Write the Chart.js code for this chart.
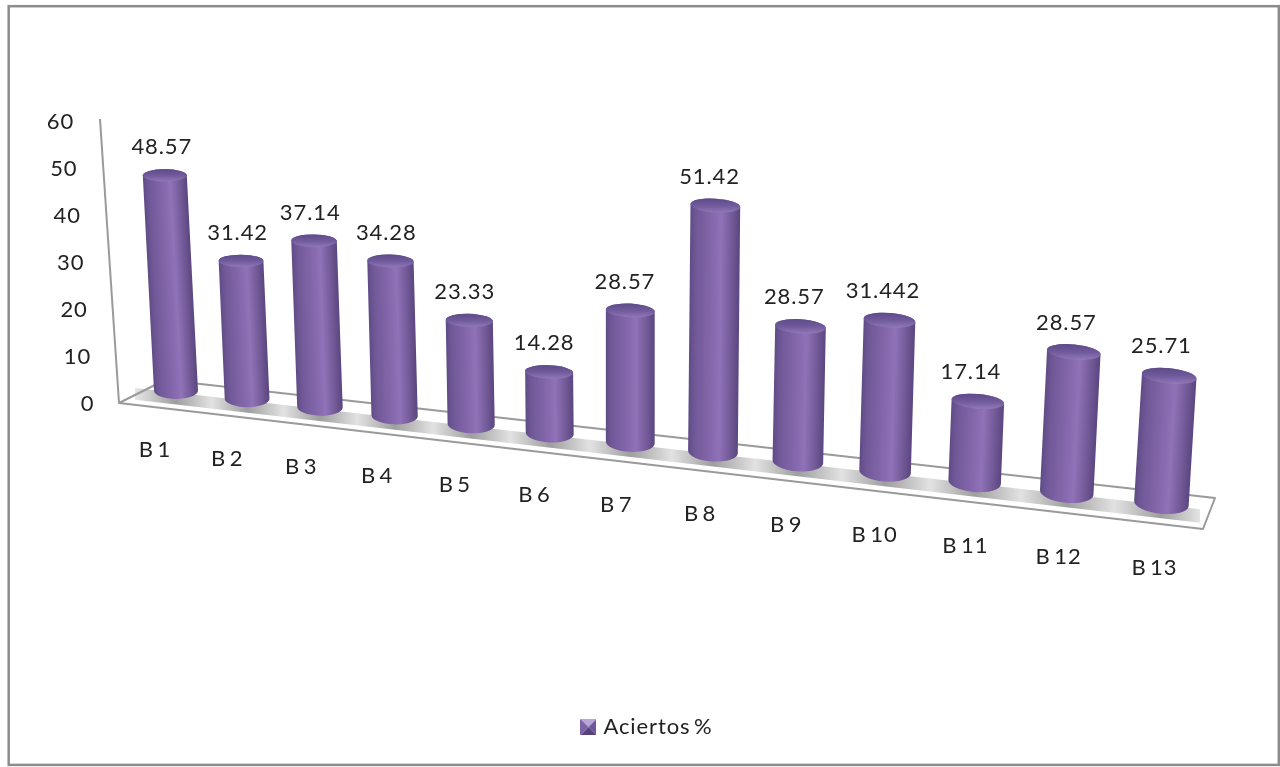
<!DOCTYPE html>
<html lang="es">
<head>
<meta charset="utf-8">
<title>Aciertos %</title>
<script src="https://cdn.jsdelivr.net/npm/chart.js@4"></script>
<style>
  html, body { margin: 0; padding: 0; background: #ffffff; }
  canvas { display: block; }
</style>
</head>
<body>
<canvas id="chart" width="1280" height="767"></canvas>
<script>
// Chart values
const categories = ['B 1', 'B 2', 'B 3', 'B 4', 'B 5', 'B 6', 'B 7', 'B 8', 'B 9', 'B 10', 'B 11', 'B 12', 'B 13'];
const aciertos = [48.57, 31.42, 37.14, 34.28, 23.33, 14.28, 28.57, 51.42, 28.57, 31.442, 17.14, 28.57, 25.71];
const seriesName = 'Aciertos %';
const axisMax = 60;
const axisStep = 10;

const FONT = { family: 'Lato', size: 22 };
const TEXT = '#222222';
const LINE = '#9a9a9a';

// Perspective of the floor: turns a category position into a point on the slanted plane.
const persp = u => 1 - 0.01206 * u;
const floorX = u => (68.11 * u + 176) / persp(u);
const floorFrontEdgeY = X => 399 + 0.1166 * (X - 177);
const depthScale = u => Math.pow(persp(u), -0.8) * 4.43 / 4.7 + 0.038;
const widthScale = u => Math.pow(persp(u), -1.4);
const LEAN = 0.000115, LEAN_ORIGIN = 629;

// Corners of the floor plate
const FLOOR = { fl: [119, 403], bl: [165, 380], br: [1215, 498], fr: [1203, 529] };
const frontY = X => FLOOR.fl[1] + (FLOOR.fr[1] - FLOOR.fl[1]) / (FLOOR.fr[0] - FLOOR.fl[0]) * (X - FLOOR.fl[0]);
const backY = X => FLOOR.bl[1] + (FLOOR.br[1] - FLOOR.bl[1]) / (FLOOR.br[0] - FLOOR.bl[0]) * (X - FLOOR.bl[0]);

// Plot area of the running chart, refreshed before each draw
let plotArea = null;

// Projects a bar laid out by the scales onto the slanted floor
function cylinderGeometry(bar) {
  const u = (bar.x - plotArea.left) / plotArea.width * categories.length - 0.5;
  const w = bar.width * widthScale(u);
  const xb = floorX(u);
  const rb = w * 0.19, rt = w * 0.14;
  const yb = floorFrontEdgeY(xb) - rb;
  const h = (bar.base - bar.y) * depthScale(u) - 8.6 + 0.2 * u;
  const xt = xb + (xb - LEAN_ORIGIN) * h * LEAN;
  const yt = yb - h;
  const tilt = (u / 12) * 6 * Math.PI / 180;
  return { u, w, xb, yb, xt, yt, rb, rt, tilt };
}

// A bar drawn as a shaded upright cylinder
class CylinderElement extends Chart.BarElement {
  static id = 'cylinder';
  static defaults = Chart.BarElement.defaults;
  draw(ctx) {
    const g = cylinderGeometry(this.getProps(['x', 'y', 'base', 'width'], true));
    const half = g.w / 2;
    ctx.save();
    ctx.beginPath();
    ctx.ellipse(g.xb, g.yb, half, g.rb, g.tilt, 0, Math.PI);
    ctx.ellipse(g.xt, g.yt, half, g.rt, g.tilt, Math.PI, Math.PI * 2);
    ctx.closePath();
    const shear = (g.xt - g.xb) / (g.yt - g.yb);
    ctx.save();
    ctx.transform(1, 0, shear, 1, -shear * g.yb, 0);
    const side = ctx.createLinearGradient(g.xb - half, 0, g.xb + half, 0);
    side.addColorStop(0, '#5f4b86');
    side.addColorStop(0.12, '#705897');
    side.addColorStop(0.5, '#886ab0');
    side.addColorStop(0.62, '#9072b8');
    side.addColorStop(0.86, '#6f5794');
    side.addColorStop(1, '#5a4680');
    ctx.fillStyle = side;
    ctx.fill();
    ctx.restore();

    const cap = ctx.createLinearGradient(0, g.yt - g.rt, 0, g.yt + g.rt);
    cap.addColorStop(0, '#5f4b88');
    cap.addColorStop(0.5, '#6f5a9c');
    cap.addColorStop(0.8, '#846bab');
    cap.addColorStop(1, '#9078b8');
    ctx.beginPath();
    ctx.ellipse(g.xt, g.yt, half, g.rt, g.tilt, 0, Math.PI * 2);
    ctx.fillStyle = cap;
    ctx.fill();
    ctx.restore();
  }
}

class CylinderController extends Chart.BarController {
  static id = 'cylinder';
  static defaults = { ...Chart.BarController.defaults, dataElementType: 'cylinder' };
}

Chart.register(CylinderElement, CylinderController);

// Bevelled legend swatch
function legendSwatch() {
  const s = 16, c = document.createElement('canvas');
  c.width = c.height = s;
  const p = c.getContext('2d');
  const tri = (a, b, fill) => {
    p.beginPath(); p.moveTo(...a); p.lineTo(...b); p.lineTo(s / 2, s / 2); p.closePath();
    p.fillStyle = fill; p.fill();
  };
  tri([0, 0], [s, 0], '#b9a6d8');
  tri([s, 0], [s, s], '#6f5799');
  tri([s, s], [0, s], '#57437c');
  tri([0, s], [0, 0], '#7d64a8');
  return c;
}

// Wider-set letters and a narrow word gap for every label on the canvas
function setTextSpacing(ctx) {
  ctx.letterSpacing = '0.9px';
  ctx.wordSpacing = '-3px';
}

const perspectivePlugin = {
  id: 'perspective',
  beforeUpdate: c => setTextSpacing(c.ctx),
  beforeLayout: c => setTextSpacing(c.ctx),
  beforeDraw(c) {
    const { ctx, chartArea: area, scales: { x, y }, width, height } = c;
    plotArea = area;
    setTextSpacing(ctx);

    // Outer frame
    ctx.save();
    ctx.strokeStyle = '#8c8c8c';
    ctx.lineWidth = 2.5;
    ctx.strokeRect(8.7, 6.2, width - 8.7 - 1.2, height - 6.2 - 2.1);
    ctx.restore();

    // Tick labels follow the slanted axes
    y.getLabelItems(area).forEach((item, i) => {
      const v = y.ticks[i].value;
      item.options.translation = [94.5 - 0.34 * v, y.getPixelForValue(v)];
      item.options.textAlign = 'right';
    });
    x.getLabelItems(area).forEach((item, i) => {
      const lx = floorX(i) - 21 + 14 * i / 12;
      item.options.translation = [lx, 450 + 0.118 * (lx - 155)];
      item.options.textAlign = 'center';
      item.options.textBaseline = 'middle';
      item.textOffset = 0;
    });
  },
  beforeDatasetsDraw(c) {
    const { ctx, scales: { y } } = c;
    const { fl, bl, br, fr } = FLOOR;
    ctx.save();
    ctx.lineJoin = 'round';

    // Value axis, leaning with the perspective
    ctx.strokeStyle = LINE;
    ctx.lineWidth = 2;
    ctx.beginPath();
    ctx.moveTo(fl[0], y.getPixelForValue(0) - 1);
    ctx.lineTo(fl[0] - 19, y.getPixelForValue(axisMax) - 3);
    ctx.stroke();

    // Floor plate
    ctx.beginPath();
    ctx.moveTo(...fl); ctx.lineTo(...bl); ctx.lineTo(...br); ctx.lineTo(...fr); ctx.closePath();
    ctx.fillStyle = '#ffffff';
    ctx.fill();

    // Shadow band with darker patches around each bar
    const x0 = 135, x1 = 1200;
    const shade = ctx.createLinearGradient(x0, 0, x1, 0);
    const stop = (X, col) => shade.addColorStop(Math.min(1, Math.max(0, (X - x0) / (x1 - x0))), col);
    stop(x0, '#e6e6e6');
    categories.forEach((_, i) => {
      const X = floorX(i);
      stop(X, '#9e9e9e');
      if (i < categories.length - 1) stop((X + floorX(i + 1)) / 2, '#e2e2e2');
    });
    stop(x1, '#e4e4e4');
    const band = (X, t) => frontY(X) + (backY(X) - frontY(X)) * t;
    ctx.beginPath();
    ctx.moveTo(x0, band(x0, 0.18));
    ctx.lineTo(x1, band(x1, 0.18));
    ctx.lineTo(x1, band(x1, 0.6));
    ctx.lineTo(x0, band(x0, 0.6));
    ctx.closePath();
    ctx.fillStyle = shade;
    ctx.fill();

    ctx.beginPath();
    ctx.moveTo(...fl); ctx.lineTo(...bl); ctx.lineTo(...br); ctx.lineTo(...fr); ctx.closePath();
    ctx.strokeStyle = LINE;
    ctx.lineWidth = 2;
    ctx.stroke();
    ctx.restore();
  },
  afterDatasetsDraw(c) {
    // Value labels above each cylinder
    const { ctx } = c;
    ctx.save();
    ctx.font = `${FONT.size}px ${FONT.family}`;
    ctx.fillStyle = TEXT;
    ctx.textAlign = 'center';
    ctx.textBaseline = 'middle';
    c.getDatasetMeta(0).data.forEach((bar, i) => {
      const g = cylinderGeometry(bar);
      ctx.fillText(String(aciertos[i]), g.xt - 3 - 0.4 * i, g.yt - g.rt - 22);
    });
    ctx.restore();
  }
};

new Chart(document.getElementById('chart'), {
  type: 'cylinder',
  data: {
    labels: categories,
    datasets: [{
      label: seriesName,
      data: aciertos,
      clip: false,
      backgroundColor: '#7d62a6',
      barPercentage: 0.4927,
      categoryPercentage: 1
    }]
  },
  plugins: [perspectivePlugin],
  options: {
    responsive: false,
    animation: false,
    layout: { padding: { top: 122, left: 17, right: 0, bottom: 19 } },
    font: FONT,
    scales: {
      x: {
        grid: { display: false },
        border: { display: false },
        ticks: { font: FONT, color: TEXT, autoSkip: false, maxRotation: 0, minRotation: 0 },
        afterFit: s => { s.height = 302; }
      },
      y: {
        min: 0,
        max: axisMax,
        grid: { display: false },
        border: { display: false },
        ticks: { font: FONT, color: TEXT, stepSize: axisStep },
        afterFit: s => { s.width = 102; }
      }
    },
    plugins: {
      tooltip: { enabled: false },
      legend: {
        position: 'bottom',
        labels: {
          font: FONT,
          color: TEXT,
          usePointStyle: true,
          pointStyle: legendSwatch(),
          boxWidth: 8,
          boxHeight: 16
        }
      }
    }
  }
});
</script>
</body>
</html>
